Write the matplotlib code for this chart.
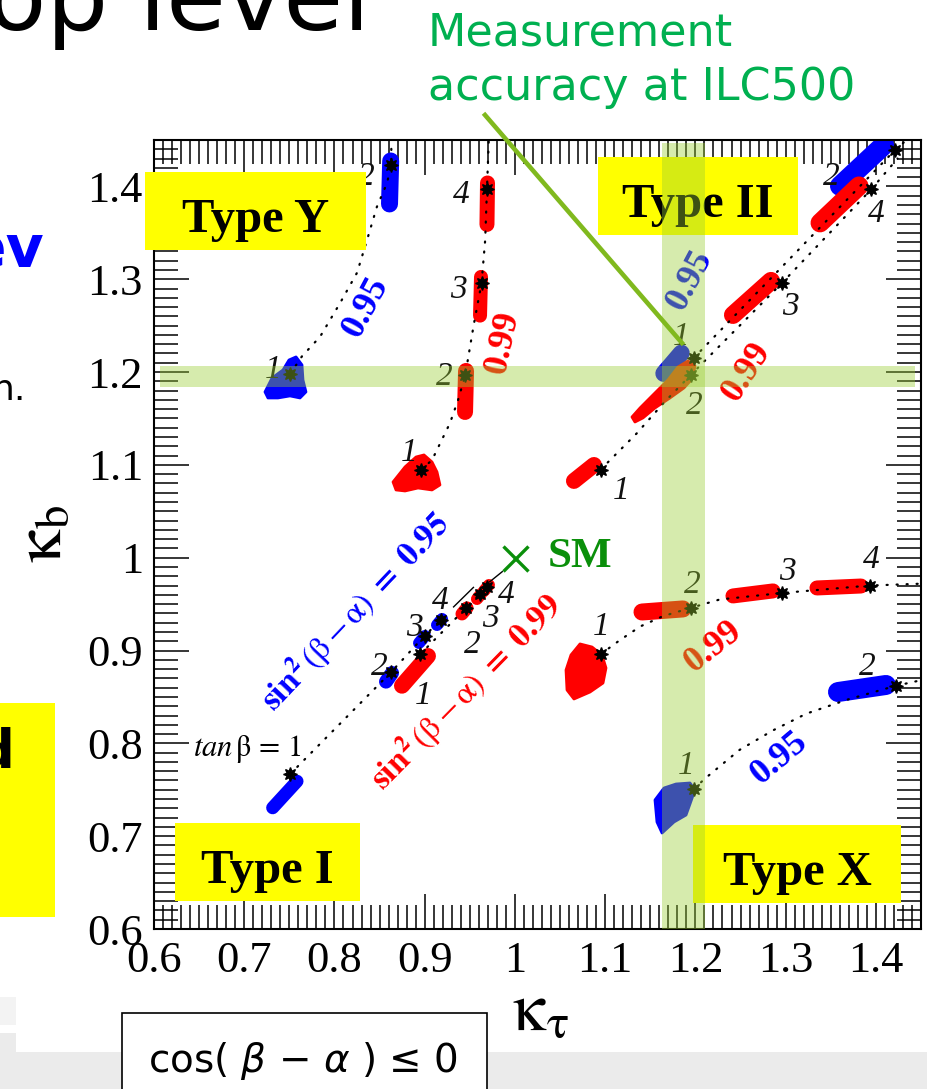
#!/usr/bin/env python3

import numpy as np
import matplotlib
matplotlib.use("Agg")
import matplotlib.pyplot as plt
from matplotlib.patches import Rectangle, Polygon
from matplotlib.lines import Line2D
from matplotlib.transforms import Affine2D
from matplotlib.ticker import MultipleLocator, FuncFormatter

W, H = 927, 1089

# ---- values: (kappa_tau, kappa_b) ----
tanb_labels = ["1", "2", "3", "4"]

typeI_095 = [(0.751, 0.767), (0.863, 0.877), (0.900, 0.916), (0.918, 0.933)]
typeI_099 = [(0.895, 0.896), (0.946, 0.946), (0.961, 0.961), (0.969, 0.968)]
typeII_095 = [(1.198, 1.215), (1.421, 1.439)]
typeII_099 = [(1.095, 1.095), (1.195, 1.197), (1.296, 1.296), (1.395, 1.397)]
typeX_095 = [(1.198, 0.751), (1.422, 0.862)]
typeX_099 = [(1.095, 0.896), (1.195, 0.946), (1.296, 0.962), (1.393, 0.970)]
typeY_095 = [(0.751, 1.198), (0.863, 1.423)]
typeY_099 = [(0.896, 1.095), (0.945, 1.197), (0.963, 1.296), (0.969, 1.397)]

sm_point = (1.0, 1.0)

# dotted tan(beta) trajectories
pathI_095 = typeI_095
pathI_099 = typeI_099
pathY_095 = [(0.751, 1.198), (0.764, 1.217), (0.784, 1.238), (0.806, 1.274), (0.825, 1.307),
             (0.836, 1.342), (0.847, 1.378), (0.858, 1.403), (0.863, 1.423), (0.863, 1.45)]
pathY_099 = [(0.896, 1.095), (0.908, 1.105), (0.928, 1.145), (0.937, 1.170), (0.945, 1.197),
             (0.954, 1.249), (0.963, 1.296), (0.967, 1.342), (0.969, 1.397), (0.971, 1.45)]
pathII_095 = [(1.198, 1.215), (1.421, 1.439), (1.434, 1.45)]
pathII_099 = [(1.095, 1.095), (1.135, 1.134), (1.166, 1.168), (1.195, 1.197), (1.296, 1.296),
              (1.395, 1.397), (1.424, 1.43)]
pathX_095 = [(1.198, 0.751), (1.213, 0.764), (1.249, 0.793), (1.286, 0.814), (1.323, 0.832),
             (1.368, 0.847), (1.422, 0.862), (1.45, 0.868)]
pathX_099 = [(1.095, 0.896), (1.116, 0.911), (1.139, 0.926), (1.164, 0.937), (1.195, 0.946),
             (1.227, 0.955), (1.296, 0.962), (1.393, 0.970), (1.45, 0.972)]
# short solid pieces towards the SM point (type I)
limitI_095 = [(0.932, 0.947), (0.954, 0.968)]
limitI_099 = [(0.972, 0.974), (0.986, 0.985)]

# scan regions: elongated ones as (x0, y0, x1, y1)
blue_streaks = [
    (0.7315, 0.7306, 0.7585, 0.7592),
    (0.8571, 0.8665, 0.8638, 0.8758),
    (0.8937, 0.9081, 0.9003, 0.9157),
    (0.9136, 0.9275, 0.9192, 0.9340),
    (0.8623, 1.4274, 0.8610, 1.3811),
    (1.1650, 1.1985, 1.1843, 1.2204),
    (1.3602, 1.4005, 1.4090, 1.4447),
    (1.3580, 0.8553, 1.4112, 0.8629),
]
red_streaks = [
    (0.8748, 0.8621, 0.9036, 0.8941),
    (0.9413, 0.9394, 0.9469, 0.9459),
    (0.9579, 0.9555, 0.9624, 0.9609),
    (0.9657, 0.9642, 0.9712, 0.9706),
    (0.9458, 1.2012, 0.9447, 1.1570),
    (0.9624, 1.3025, 0.9613, 1.2608),
    (0.9696, 1.4037, 0.9690, 1.3590),
    (1.0654, 1.0827, 1.0876, 1.0999),
    (1.2416, 1.2615, 1.2838, 1.2982),
    (1.3381, 1.3607, 1.3813, 1.4005),
    (1.1408, 0.9415, 1.1862, 0.9448),
    (1.2416, 0.9588, 1.2860, 0.9642),
    (1.3347, 0.9674, 1.3835, 0.9695),
]
# irregular scan regions as outlines
blue_blobs = [
    [(0.7230, 1.1786), (0.7308, 1.1936), (0.7430, 1.2023), (0.7496, 1.2130), (0.7574, 1.2163),
     (0.7640, 1.2077), (0.7651, 1.1915), (0.7684, 1.1786), (0.7618, 1.1721), (0.7507, 1.1743),
     (0.7374, 1.1721), (0.7263, 1.1721)],
    [(1.1652, 0.7519), (1.1785, 0.7562), (1.1940, 0.7573), (1.1995, 0.7498), (1.1940, 0.7347),
     (1.1896, 0.7228), (1.1763, 0.7153), (1.1630, 0.7034), (1.1574, 0.7153), (1.1552, 0.7390)],
]
red_blobs = [
    [(0.8649, 1.0816), (0.8782, 1.0978), (0.8904, 1.1085), (0.8992, 1.1107), (0.9081, 1.1031),
     (0.9136, 1.0924), (0.9169, 1.0784), (0.9081, 1.0730), (0.8926, 1.0751), (0.8782, 1.0719),
     (0.8682, 1.0730)],
    [(1.1297, 1.1516), (1.1386, 1.1613), (1.1552, 1.1775), (1.1696, 1.1915), (1.1807, 1.2055),
     (1.1918, 1.2120), (1.1995, 1.2066), (1.1973, 1.1936), (1.1873, 1.1829), (1.1718, 1.1721),
     (1.1552, 1.1613), (1.1419, 1.1506), (1.1330, 1.1462)],
    [(1.0721, 0.9071), (1.0854, 0.9038), (1.0965, 0.8952), (1.1009, 0.8812), (1.0976, 0.8650),
     (1.0832, 0.8553), (1.0654, 0.8478), (1.0577, 0.8575), (1.0566, 0.8790), (1.0621, 0.8952)],
]

# ILC500 measurement accuracy bands
ilc_ktau, ilc_ktau_err = 1.187, 0.024
ilc_kb, ilc_kb_err = 1.195, 0.011

# ---- layout / style ----
BLUE = "#0000ff"
RED = "#ff0000"
SMGREEN = "#0a8f0a"
blue_streak_w = [13, 14, 12, 12, 17, 17, 20, 20]       # px
red_streak_w = [16, 13, 12, 12, 16, 14, 15, 16, 18, 19, 17, 15, 15]

# label offsets (pixels) of the tan(beta) numbers
offI_095 = [None, (-12, 9), (-10, 11), (-1, 23)]
offI_099 = [(3, -38), (6, -33), (11, -21), (19, -4)]
offY_095 = [(-17, 8), (-25, -8)]
offY_099 = [(-12, 20), (-21, 2), (-23, -3), (-26, -2)]
offII_095 = [(-12, 25), (-63, -23)]
offII_099 = [(21, -18), (3, -27), (8, -20), (5, -21)]
offX_095 = [(-7, 27), (-28, 23)]
offX_099 = [(1, 31), (1, 27), (5, 25), (2, 29)]

plt.rcParams["font.family"] = ["Liberation Serif", "DejaVu Serif"]
plt.rcParams["mathtext.fontset"] = "stix"

fig = plt.figure(figsize=(W / 100, H / 100), dpi=100)
ax = fig.add_axes([154 / W, 1 - 929 / H, 767 / W, 789 / H])
# image pixel coordinates (origin top-left) for the slide decorations
px = Affine2D().scale(1 / W, -1 / H).translate(0, 1) + fig.transFigure

ax.set_xlim(0.6, 1.45)
ax.set_ylim(0.6, 1.45)
ax.set_xticks(np.arange(0.6, 1.41, 0.1))
ax.set_yticks(np.arange(0.6, 1.41, 0.1))
fmt = FuncFormatter(lambda v, p: f"{v:.1f}".replace("1.0", "1"))
ax.xaxis.set_major_formatter(fmt)
ax.yaxis.set_major_formatter(fmt)
ax.xaxis.set_minor_locator(MultipleLocator(0.01))
ax.yaxis.set_minor_locator(MultipleLocator(0.01))
ax.tick_params(which="both", direction="in", top=True, right=True, width=1.1)
ax.tick_params(which="major", length=25, labelsize=32)
ax.tick_params(which="minor", length=17)
ax.tick_params(axis="x", pad=9)
ax.tick_params(axis="y", pad=8)
for s in ax.spines.values():
    s.set_linewidth(1.5)

# scan regions
for (x0, y0, x1, y1), w in zip(blue_streaks, blue_streak_w):
    ax.plot([x0, x1], [y0, y1], color=BLUE, lw=w * 0.72, solid_capstyle="round", zorder=2)
for verts in blue_blobs:
    ax.add_patch(Polygon(verts, closed=True, fc=BLUE, ec=BLUE, lw=2, joinstyle="round", zorder=2))
for (x0, y0, x1, y1), w in zip(red_streaks, red_streak_w):
    ax.plot([x0, x1], [y0, y1], color=RED, lw=w * 0.72, solid_capstyle="round", zorder=2.1)
for verts in red_blobs:
    ax.add_patch(Polygon(verts, closed=True, fc=RED, ec=RED, lw=2, joinstyle="round", zorder=2.1))

# dotted trajectories
for path in [pathI_095, pathI_099, pathY_095, pathY_099, pathII_095, pathII_099, pathX_095, pathX_099]:
    xs, ys = zip(*path)
    ax.plot(xs, ys, color="k", lw=1.6, ls=(0, (0.5, 4)), dash_capstyle="round", zorder=3)
for seg in [limitI_095, limitI_099]:
    xs, ys = zip(*seg)
    ax.plot(xs, ys, color="k", lw=1.0, zorder=3)

# benchmark points and their tan(beta) numbers
groups = [(typeI_095, offI_095), (typeI_099, offI_099), (typeY_095, offY_095), (typeY_099, offY_099),
          (typeII_095, offII_095), (typeII_099, offII_099), (typeX_095, offX_095), (typeX_099, offX_099)]
for pts, offs in groups:
    xs, ys = zip(*pts)
    ax.plot(xs, ys, ls="none", marker=(8, 1, 0), ms=10, color="k", zorder=4)
    for (x, y), lab, off in zip(pts, tanb_labels, offs):
        if off is None:
            continue
        ax.annotate(lab, (x, y), xytext=off, textcoords="offset pixels", ha="center",
                    va="center_baseline", fontsize=24, style="italic", color="#111111", zorder=5)
ax.annotate(r"$\mathit{tan}\,\mathrm{\beta}\,=\,\mathit{1}$", typeI_095[0], xytext=(-43, 25),
            textcoords="offset pixels", ha="center", va="center", fontsize=22, zorder=5)

# SM
ax.plot(*sm_point, marker="x", ms=18, mew=2.4, color=SMGREEN, zorder=5)
ax.text(1.0366, 0.990, "SM", color=SMGREEN, fontsize=31, weight="bold", ha="left", va="baseline", zorder=5)

# sin^2(beta-alpha) labels
rot_labels = [
    (0.835, 1.270, "0.95", BLUE, 62),
    (0.987, 1.232, "0.99", RED, 78),
    (1.194, 1.299, "0.95", BLUE, 62),
    (1.257, 1.200, "0.99", RED, 57),
    (1.2195, 0.904, "0.99", RED, 38),
    (1.2926, 0.784, "0.95", BLUE, 40),
]
for x, y, s, c, r in rot_labels:
    ax.text(x, y, s, color=c, fontsize=26, weight="bold", rotation=r, rotation_mode="anchor",
            ha="center", va="center", zorder=5)
ax.text(0.8227, 0.9415, r"$\mathbf{sin}^{\mathbf{2}}\,(\mathrm{\beta}-\mathrm{\alpha})\ \mathbf{=\ 0.95}$",
        color=BLUE, fontsize=24, rotation=46.5, rotation_mode="anchor", ha="center", va="center", zorder=5)
ax.text(0.9458, 0.8553, r"$\mathbf{sin}^{\mathbf{2}}\,(\mathrm{\beta}-\mathrm{\alpha})\ \mathbf{=\ 0.99}$",
        color=RED, fontsize=24, rotation=45.5, rotation_mode="anchor", ha="center", va="center", zorder=5)

# yellow type boxes
type_boxes = [("Type Y", 145, 172, 221, 78), ("Type II", 598, 157, 200, 78),
              ("Type I", 175, 823, 185, 78), ("Type X", 693, 825, 208, 78)]
for name, bx, by, bw, bh in type_boxes:
    ax.add_patch(Rectangle((bx, by), bw, bh, transform=px, fc="#ffff00", ec="none",
                           clip_on=False, zorder=6))
    ax.text(bx + bw / 2, by + 60, name, transform=px, fontsize=35, weight="bold",
            ha="center", va="baseline", clip_on=False, zorder=6.5)

# ILC500 accuracy bands
band = dict(fc="#9acd32", alpha=0.4, ec="none", zorder=7)
ax.add_patch(Rectangle((ilc_ktau - ilc_ktau_err, 0.6), 2 * ilc_ktau_err, 0.847, **band))
ax.add_patch(Rectangle((0.607, ilc_kb - ilc_kb_err), 0.836, 2 * ilc_kb_err, **band))

# axis titles
fig.text(44, 534, r"$\mathrm{\kappa}_{\mathrm{b}}$", transform=px, fontsize=48, rotation=90,
         ha="center", va="center")
fig.text(540, 1012, r"$\mathrm{\kappa}_{\mathrm{\tau}}$", transform=px, fontsize=48,
         ha="center", va="center")

# ---- slide decorations around the plot ----
sans = "DejaVu Sans"
fig.text(-13, 30, "op level", transform=px, fontsize=70, family=sans, va="baseline")
fig.text(44, 267, "ev", transform=px, fontsize=42, family=sans, weight="bold", color=BLUE,
         ha="right", va="baseline")
fig.text(26, 400, "n.", transform=px, fontsize=26, family=sans, ha="right", va="baseline")
fig.add_artist(Rectangle((0, 703), 55, 214, transform=px, fc="#ffff00", ec="none"))
fig.text(14, 767, "d", transform=px, fontsize=38, family=sans, weight="bold", ha="right",
         va="baseline")

fig.text(428, 45, "Measurement", transform=px, fontsize=32, family=sans, color="#00b050",
         va="baseline")
fig.text(428, 100, "accuracy at ILC500", transform=px, fontsize=32, family=sans, color="#00b050",
         va="baseline")
fig.add_artist(Line2D([485, 682], [115, 343], transform=px, color="#80b91e", lw=3.3, zorder=10))

fig.add_artist(Rectangle((0, 1052), W, 40, transform=px, fc="#ebebeb", ec="none"))
fig.add_artist(Rectangle((0, 997), 16, 28, transform=px, fc="#f3f3f3", ec="none"))
fig.add_artist(Rectangle((0, 1033), 16, 20, transform=px, fc="#ebebeb", ec="none"))
fig.add_artist(Rectangle((122, 1013), 365, 90, transform=px, fc="white", ec="black", lw=1.2, zorder=2))
fig.text(148, 1072, "cos( $\\beta$ \u2212 $\\alpha$ ) \u2264 0", transform=px, fontsize=28,
         family=sans, math_fontfamily="dejavusans", va="baseline", zorder=3)

fig.savefig("out.png", dpi=100)
